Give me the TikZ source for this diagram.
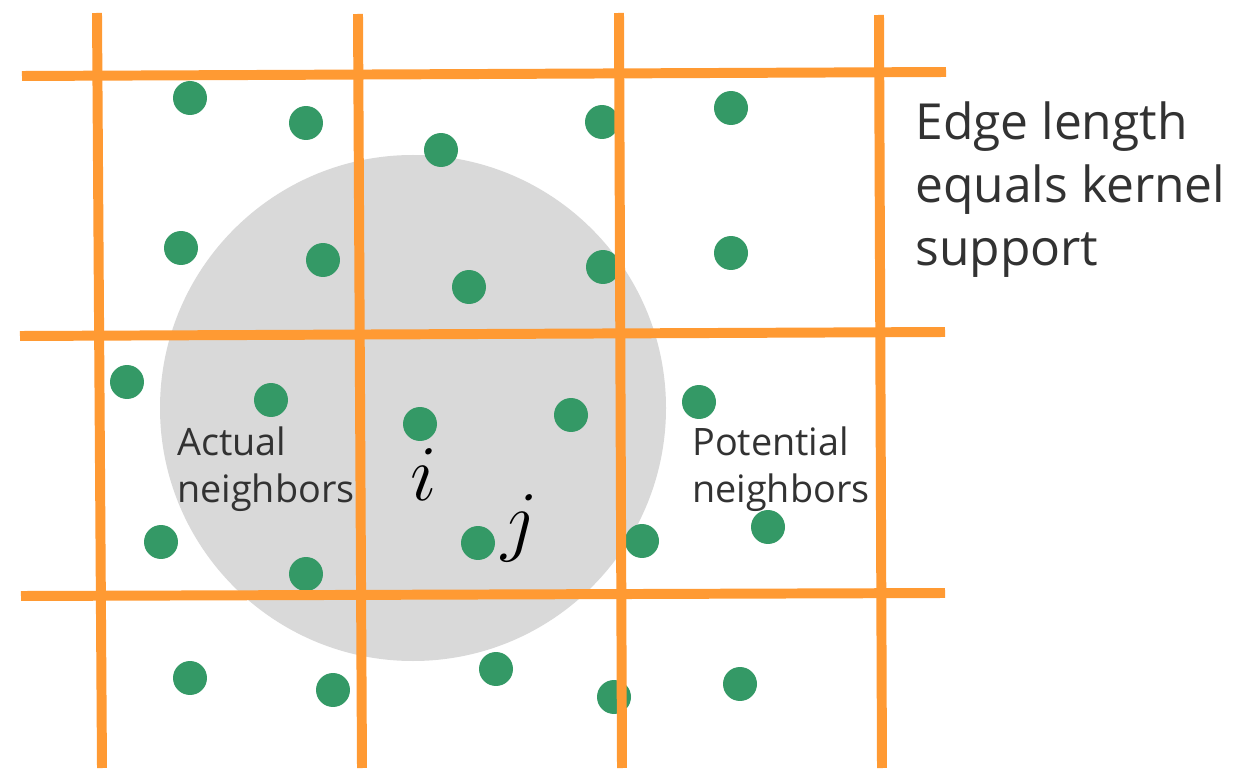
\documentclass[tikz,border=0pt]{standalone}
\usepackage{fix-cm}
\usepackage{fontspec}
\setmainfont{Open Sans}
\definecolor{gridorange}{RGB}{255,154,51}
\definecolor{dotgreen}{RGB}{52,153,102}
\definecolor{kgray}{RGB}{217,217,217}
\definecolor{txt}{RGB}{50,50,50}
\begin{document}
\begin{tikzpicture}[x=0.02cm,y=-0.02cm,
  gridline/.style={draw=gridorange,line width=5.67pt},
  particle/.style={circle,fill=dotgreen,minimum size=0.68cm,inner sep=0pt,draw=none},
  bigtxt/.style={anchor=base west,inner sep=0pt,text=txt,font=\fontsize{28.3}{33}\selectfont},
  midtxt/.style={anchor=base west,inner sep=0pt,text=txt,font=\fontsize{21.5}{25}\selectfont},
  mathtxt/.style={inner sep=0pt,font=\fontsize{45}{50}\selectfont}]
\useasboundingbox (0,0) rectangle (1238,770);
\fill[white] (0,0) rectangle (1238,770);
% kernel support
\fill[kgray] (413,408) circle[radius=253];
% particles
\foreach \n/\px/\py in {1/190/98,2/306/123,3/441/150,4/602/122,5/731/108,
  6/181/248,7/323/260,8/469/287,9/603/267,10/731/253,
  11/127/382,12/271/400,13/420/424,14/571/415,15/699/402,
  16/161/542,17/306/574,18/478/543,19/642/541,20/768/527,
  21/190/678,22/333/690,23/496/669,24/614/697,25/740/684}
  \node[particle] (p\n) at (\px,\py) {};
% grid
\draw[gridline] (97,13) -- (102,768);
\draw[gridline] (358,14) -- (362,768);
\draw[gridline] (619,13) -- (622,768);
\draw[gridline] (879,15) -- (882,768);
\draw[gridline] (22,76) -- (946,72);
\draw[gridline] (20,336) -- (945,332);
\draw[gridline] (21,596) -- (945,593);
% labels
\node[bigtxt] (e1) at (915,140) {Edge length};
\node[bigtxt] (e2) at (915,203) {equals kernel};
\node[bigtxt] (e3) at (915,266) {support};
\node[midtxt] (a1) at (177,455) {Actual};
\node[midtxt] (a2) at (177,502) {neighbors};
\node[midtxt] (b1) at (692,455) {Potential};
\node[midtxt] (b2) at (692,502) {neighbors};
\node[mathtxt,anchor=base] (li) at (424,500) {$i$};
\node[mathtxt,anchor=base] (lj) at (520,546) {$j$};
\end{tikzpicture}
\end{document}
